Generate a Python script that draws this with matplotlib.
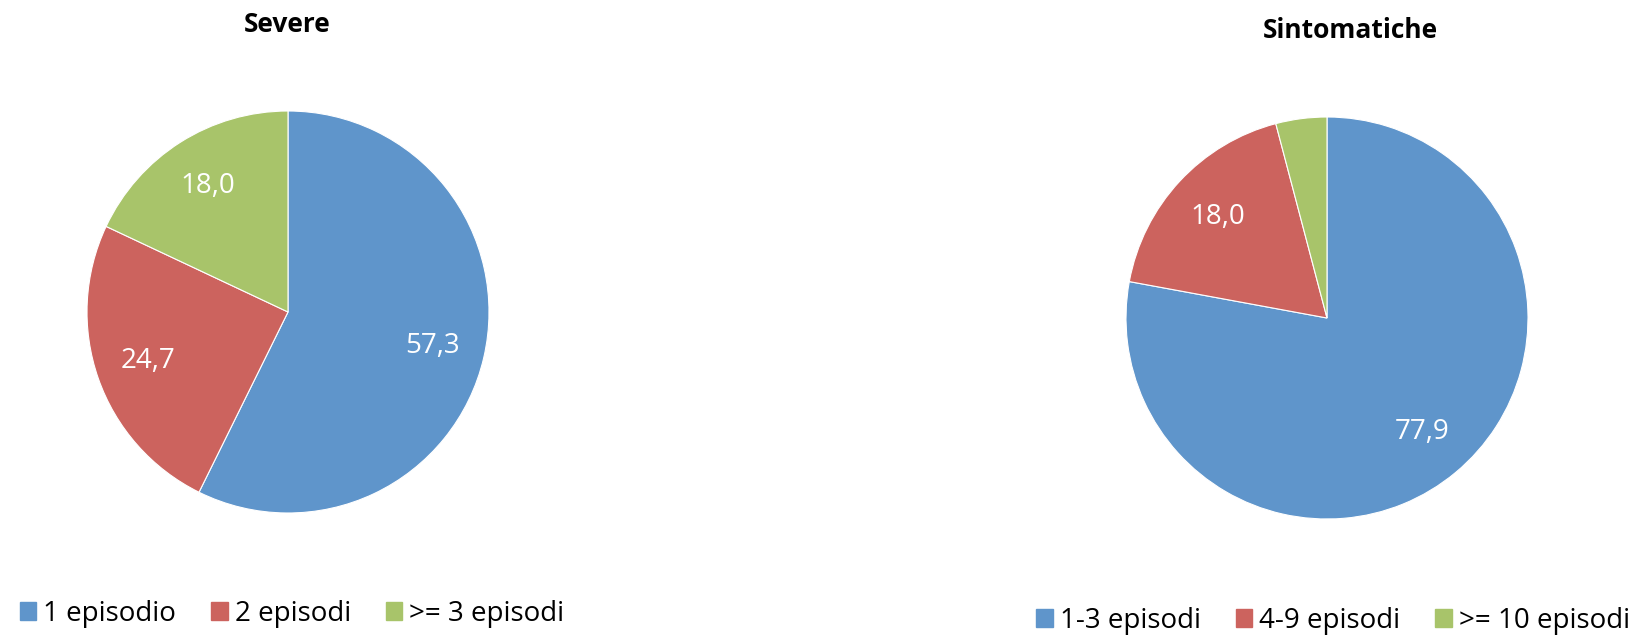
import numpy as np
import matplotlib.pyplot as plt
from matplotlib.patches import Patch

plt.rcParams['font.family'] = ['Open Sans', 'DejaVu Sans']

colors = ['#5f95cb', '#cc635e', '#a8c46a']

severe_labels = ['1 episodio', '2 episodi', '>= 3 episodi']
severe_values = [57.3, 24.7, 18.0]

sint_labels = ['1-3 episodi', '4-9 episodi', '>= 10 episodi']
sint_values = [77.9, 18.0, 4.1]
sint_shown = [True, True, False]

W, H = 1639, 635


def px_axes(fig, cx, cy, r):
    # square axes around a pixel centre (top-left origin)
    return fig.add_axes([(cx - r) / W, 1 - (cy + r) / H, 2 * r / W, 2 * r / H])


def draw_pie(ax, values, shown, dist):
    wedges, _ = ax.pie(values, colors=colors, startangle=90, counterclock=False,
                       radius=1, wedgeprops=dict(linewidth=0.8, edgecolor='white'))
    for w, v, s in zip(wedges, values, shown):
        if not s:
            continue
        ang = np.deg2rad((w.theta1 + w.theta2) / 2)
        ax.text(dist * np.cos(ang), dist * np.sin(ang), f'{v:.1f}'.replace('.', ','),
                ha='center', va='center', color='white', fontsize=20)
    ax.set_xlim(-1, 1)
    ax.set_ylim(-1, 1)
    ax.set_aspect('equal')
    ax.axis('off')


fig = plt.figure(figsize=(W / 100, H / 100), dpi=100)

ax1 = px_axes(fig, 288, 312, 201)
draw_pie(ax1, severe_values, [True] * 3, 0.74)
ax2 = px_axes(fig, 1327, 318, 201)
draw_pie(ax2, sint_values, sint_shown, 0.74)

fig.text(287 / W, 1 - 24 / H, 'Severe', ha='center', va='center',
         fontsize=19, fontweight='bold')
fig.text(1350 / W, 1 - 30 / H, 'Sintomatiche', ha='center', va='center',
         fontsize=19, fontweight='bold')

leg_kw = dict(ncol=3, frameon=False, fontsize=20, handlelength=0.6, handleheight=0.6,
              handletextpad=0.25, columnspacing=1.25, borderaxespad=0, borderpad=0)
h1 = [Patch(color=c, label=l) for c, l in zip(colors, severe_labels)]
fig.legend(handles=h1, loc='center', bbox_to_anchor=(292 / W, 1 - 614 / H), **leg_kw)
h2 = [Patch(color=c, label=l) for c, l in zip(colors, sint_labels)]
fig.legend(handles=h2, loc='center', bbox_to_anchor=(1333 / W, 1 - 621 / H), **leg_kw)

fig.savefig('out.png', dpi=100)
